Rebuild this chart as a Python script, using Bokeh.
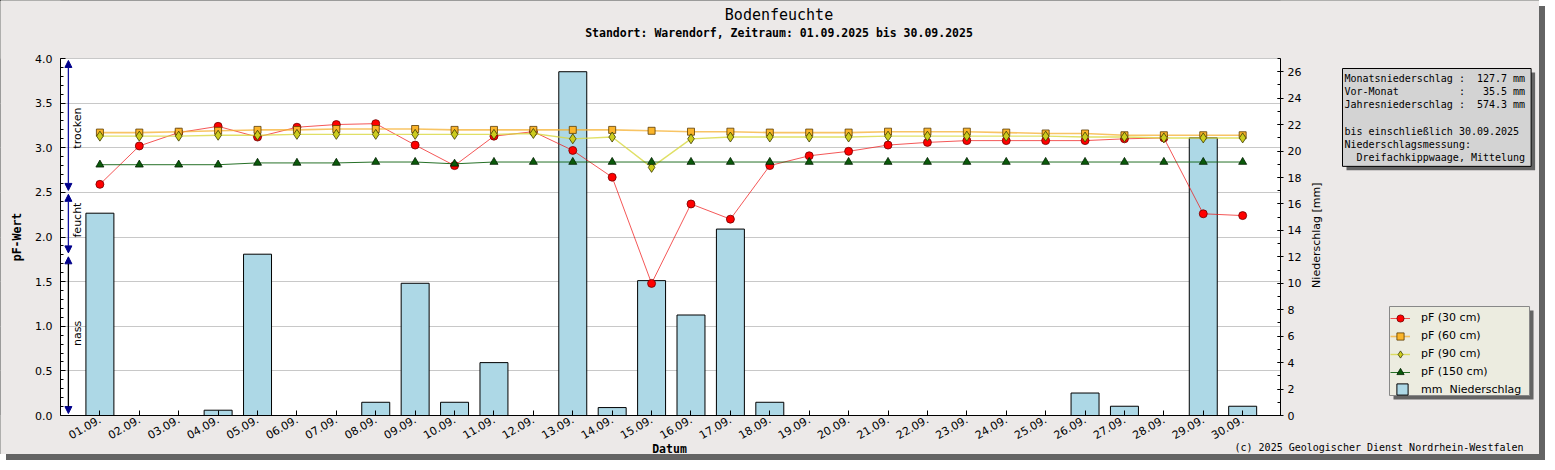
import math
from bokeh.plotting import figure
from bokeh.models import (Range1d, LinearAxis, FixedTicker, SingleIntervalTicker, Label,
                          Legend, LegendItem, Arrow, NormalHead, NumeralTickFormatter,
                          BoxAnnotation)
from bokeh.embed import file_html
from bokeh.resources import INLINE

# ---------------- data ----------------
days = list(range(1, 31))
day_labels = [f"{d:02d}.09." for d in days]

pf30 = [2.59, 3.02, 3.17, 3.24, 3.12, 3.23, 3.26, 3.27, 3.03, 2.80,
        3.13, 3.18, 2.97, 2.67, 1.48, 2.37, 2.20, 2.80, 2.91, 2.96,
        3.03, 3.06, 3.08, 3.08, 3.08, 3.08, 3.10, 3.11, 2.26, 2.24]
pf60 = [3.17, 3.17, 3.18, 3.19, 3.20, 3.20, 3.21, 3.21, 3.21, 3.20,
        3.20, 3.20, 3.20, 3.20, 3.19, 3.18, 3.18, 3.17, 3.17, 3.17,
        3.18, 3.18, 3.18, 3.17, 3.16, 3.16, 3.14, 3.14, 3.14, 3.14]
pf90 = [3.13, 3.13, 3.13, 3.14, 3.14, 3.15, 3.15, 3.15, 3.15, 3.15,
        3.15, 3.16, 3.10, 3.12, 2.78, 3.10, 3.12, 3.12, 3.12, 3.12,
        3.13, 3.13, 3.13, 3.13, 3.13, 3.12, 3.12, 3.11, 3.11, 3.11]
pf150 = [2.81, 2.81, 2.81, 2.81, 2.83, 2.83, 2.83, 2.84, 2.84, 2.82,
         2.84, 2.84, 2.84, 2.84, 2.84, 2.84, 2.84, 2.84, 2.84, 2.84,
         2.84, 2.84, 2.84, 2.84, 2.84, 2.84, 2.84, 2.84, 2.84, 2.84]
precip = [15.3, 0.0, 0.0, 0.4, 12.2, 0.0, 0.0, 1.0, 10.0, 1.0,
          4.0, 0.0, 26.0, 0.6, 10.2, 7.6, 14.1, 1.0, 0.0, 0.0,
          0.0, 0.0, 0.0, 0.0, 0.0, 1.7, 0.7, 0.0, 21.0, 0.7]

series_labels = ["pF (30 cm)", "pF (60 cm)", "pF (90 cm)", "pF (150 cm)"]
bar_label = "mm\u00a0 Niederschlag"

zone_names = ["trocken", "feucht", "nass"]
zone_top = [4.0, 2.5, 1.8]
zone_bottom = [2.5, 1.8, 0.0]
zone_label_pf = [3.22, 2.19, 0.92]

title_text = "Bodenfeuchte"
subtitle_text = "Standort: Warendorf, Zeitraum: 01.09.2025 bis 30.09.2025"
info_lines = [
    "Monatsniederschlag :\u00a0 127.7 mm",
    "Vor-Monat\u00a0\u00a0\u00a0\u00a0\u00a0\u00a0\u00a0\u00a0\u00a0 :\u00a0\u00a0 35.5 mm",
    "Jahresniederschlag :\u00a0 574.3 mm",
    "",
    "bis einschließlich 30.09.2025",
    "Niederschlagsmessung:",
    "\u00a0 Dreifachkippwaage, Mittelung",
]
copyright_text = "(c) 2025 Geologischer Dienst Nordrhein-Westfalen"

# ---------------- geometry (canvas pixels) ----------------
BG = "#ECE9E8"
SHADOW = "#646464"
SANS = "DejaVu Sans"
MONO = "DejaVu Sans Mono"
W, H = 1539, 454
PL, PR, PT, PB = 60, 1280, 58, 415           # plot area in canvas pixels
X_MAX, Y_MAX, MM_MAX = 30.96, 4.0, 27.0

xs = X_MAX / (PR - PL)
ys = Y_MAX / (PB - PT)
ms = MM_MAX / (PB - PT)

p = figure(width=W, height=H, output_backend="svg", toolbar_location=None,
           x_range=Range1d(-PL * xs, X_MAX + (W - PR) * xs),
           y_range=Range1d(-(H - PB) * ys, Y_MAX + PT * ys),
           min_border_left=0, min_border_right=0, min_border_top=0,
           min_border_bottom=0)
p.extra_y_ranges = {"mm": Range1d(-(H - PB) * ms, MM_MAX + PT * ms)}
p.background_fill_color = "white"
p.border_fill_color = BG
p.outline_line_color = None
p.styles = {"outline": "1px solid #000000", "outline-offset": "-1px",
            "box-shadow": f"6px 6px 0px {SHADOW}"}

yt = SingleIntervalTicker(interval=0.5, num_minor_ticks=5)
p.xgrid.visible = False
p.ygrid.ticker = yt
p.ygrid.bounds = (0, Y_MAX)
p.ygrid.grid_line_color = "#C8C8C8"

# grey surround (hides the grid outside the plot area)
for kw in (dict(right=0), dict(left=X_MAX), dict(bottom=Y_MAX + 0.6 * ys), dict(top=0)):
    p.add_layout(BoxAnnotation(level="underlay", fill_color=BG, fill_alpha=1.0,
                               line_color=None, **kw))

xa = p.xaxis[0]
xa.fixed_location = 0
xa.bounds = (0, X_MAX)
xa.ticker = FixedTicker(ticks=days)
xa.major_label_overrides = {d: l for d, l in zip(days, day_labels)}
xa.major_label_orientation = math.pi / 6
xa.major_tick_in = 5
xa.major_tick_out = 0
xa.minor_tick_in = 0
xa.minor_tick_out = 0
xa.major_label_standoff = 3

ya = p.yaxis[0]
ya.fixed_location = 0
ya.bounds = (0, Y_MAX)
ya.ticker = yt
ya.formatter = NumeralTickFormatter(format="0.0")
ya.major_tick_in = 5
ya.major_tick_out = 0
ya.minor_tick_in = 3
ya.minor_tick_out = 0
ya.major_label_standoff = 8

ra = LinearAxis(y_range_name="mm", fixed_location=X_MAX, bounds=(0, MM_MAX),
                ticker=SingleIntervalTicker(interval=2, num_minor_ticks=2))
ra.major_tick_in = 3
ra.major_tick_out = 3
ra.minor_tick_in = 3
ra.minor_tick_out = 0
ra.major_label_standoff = 4
p.add_layout(ra, "right")

for ax in (xa, ya, ra):
    ax.axis_line_color = "black"
    ax.major_tick_line_color = "black"
    ax.minor_tick_line_color = "black"
    ax.major_label_text_font = SANS
    ax.major_label_text_font_size = "11px"
    ax.major_label_text_color = "black"

# ---------------- glyphs ----------------
bars = p.vbar(x=days, top=precip, width=0.71, y_range_name="mm",
              fill_color="#ADD8E6", line_color="black", line_width=1)

styles = [
    dict(data=pf30, lc="#F01010", la=0.7, lw=1.0, marker="circle",
         fc="#FF0000", mc="#700000", size=8),
    dict(data=pf60, lc="#F5B030", la=0.75, lw=1.6, marker="square",
         fc="#FBB52A", mc="#5A3A00", size=7),
    dict(data=pf90, lc="#D8D840", la=0.8, lw=1.4, marker="diamond",
         fc="#CCCC1E", mc="#3A3A00", size=10),
    dict(data=pf150, lc="#0E6010", la=0.9, lw=1.0, marker="triangle",
         fc="#0A5A0A", mc="#002000", size=8),
]
items = []
for st, lab in zip(styles, series_labels):
    rl = p.line(days, st["data"], line_color=st["lc"], line_alpha=st["la"], line_width=st["lw"])
    rs = p.scatter(days, st["data"], marker=st["marker"], size=st["size"],
                   fill_color=st["fc"], line_color=st["mc"], line_width=0.8)
    items.append(LegendItem(label=lab, renderers=[rl, rs]))
bar_item = LegendItem(label=bar_label, renderers=[bars])

# ---------------- zone arrows ----------------
zone_x = 0.2
gap = 0.022
for name, top, bot in zip(zone_names, zone_top, zone_bottom):
    col = "black" if name == "nass" else "#1515A0"
    hs = dict(size=7, fill_color="#00008B", line_color="#00008B", line_width=1)
    p.add_layout(Arrow(x_start=zone_x, y_start=bot + gap, x_end=zone_x, y_end=top - gap,
                       start=NormalHead(**hs), end=NormalHead(**hs),
                       line_color=col, line_width=1.3))


# ---------------- text helpers ----------------
def dx(px):  # canvas pixel column -> x data value
    return (px - PL) * xs


def dy(py):  # canvas pixel row -> pF data value
    return (PB - py) * ys


def add_label(text, x, y, size, font=MONO, style="normal",
              align="center", baseline="middle", angle=0.0, color="black", **kw):
    lbl = Label(x=x, y=y, text=text,
                text_font=font, text_font_size=size, text_font_style=style,
                text_align=align, text_baseline=baseline, angle=angle,
                text_color=color, **kw)
    p.add_layout(lbl)
    return lbl


for name, zy in zip(zone_names, zone_label_pf):
    add_label(name, dx(77), zy, "11px", font=SANS, angle=math.pi / 2)

add_label(title_text, dx(778.5), dy(14.5), "15px")
add_label(subtitle_text, dx(778.5), dy(32), "11.5px", style="bold")
add_label("pF-Wert", dx(16), Y_MAX / 2, "11.5px", style="bold", angle=math.pi / 2)
add_label("Datum", dx(669), dy(448), "11.5px", style="bold")
add_label("Niederschlag [mm]", dx(1316), Y_MAX / 2 + 0.02, "11px", font=SANS,
          angle=math.pi / 2)
add_label(copyright_text, dx(1523), dy(447), "10px", align="right")

# info box (shadow + box)
info_text = "\n".join(info_lines)
BOX_L, BOX_T = 1342, 68
box_kw = dict(text_line_height=1.21, padding=dict(left=2, right=6, top=4, bottom=3),
              align="left", baseline="top")
add_label(info_text, dx(BOX_L + 4), dy(BOX_T + 4), "10px", color=SHADOW,
          background_fill_color=SHADOW, **box_kw)
add_label(info_text, dx(BOX_L), dy(BOX_T), "10px",
          background_fill_color="#D3D3D3", border_line_color="black",
          border_line_width=1, **box_kw)

# legend box (shadow + box) and the legends themselves
LEG_L, LEG_T, LEG_W, LEG_H = 1389, 306, 140, 92
LEG_BG = "#ECECE0"
leg_box_kw = dict(align="left", baseline="top",
                  padding=dict(left=0, right=LEG_W - 6, top=0, bottom=LEG_H - 11))
add_label(".", dx(LEG_L + 4), dy(LEG_T + 4), "10px", color=SHADOW,
          background_fill_color=SHADOW, **leg_box_kw)
add_label(".", dx(LEG_L), dy(LEG_T), "10px", color=LEG_BG, background_fill_color=LEG_BG,
          border_line_color="#888888", border_line_width=1, **leg_box_kw)

leg_common = dict(padding=0, margin=0, background_fill_alpha=0.0, border_line_alpha=0.0,
                  label_text_font=SANS, label_text_font_size="11px",
                  label_text_color="black", label_height=16, spacing=0)
# four pF entries: centres at 317.7 + 18*i
leg1 = Legend(items=items, glyph_width=20, glyph_height=18,
              label_standoff=11, location=(1390, H - (308.7 + 18 * 4)), **leg_common)
# precipitation entry
leg2 = Legend(items=[bar_item], glyph_width=14, glyph_height=14,
              label_standoff=12, location=(1395, H - 397.3), **leg_common)
p.add_layout(leg1)
p.add_layout(leg2)

open("out.html", "w").write(file_html(p, INLINE))
